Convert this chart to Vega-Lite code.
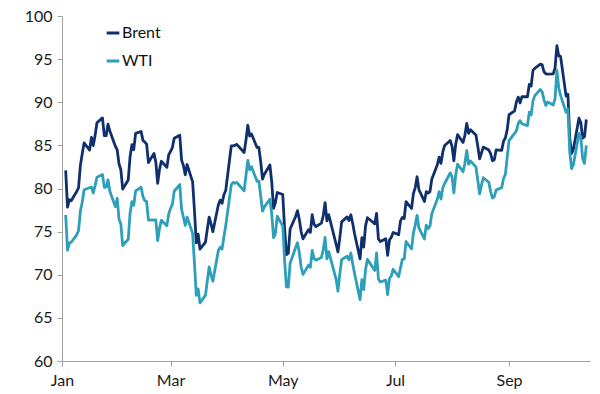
{
  "$schema": "https://vega.github.io/schema/vega-lite/v6.json",
  "autosize": {"type": "none"},
  "padding": {"left": 62, "top": 16, "right": 10, "bottom": 33},
  "width": 528,
  "height": 345,
  "background": "#ffffff",
  "config": {
    "view": {"stroke": null},
    "font": "Lato",
    "axis": {"grid": false, "domainColor": "#a0a0a0", "tickColor": "#a0a0a0", "tickSize": 5, "labelFontSize": 16, "labelColor": "#1a1a1a", "labelFont": "Lato", "title": null}
  },
  "data": {"values": [
    {"d":"2023-01-03","Brent":82.10,"WTI":76.93},
    {"d":"2023-01-04","Brent":77.84,"WTI":72.84},
    {"d":"2023-01-05","Brent":78.69,"WTI":73.67},
    {"d":"2023-01-06","Brent":78.57,"WTI":73.77},
    {"d":"2023-01-09","Brent":79.65,"WTI":74.63},
    {"d":"2023-01-10","Brent":80.10,"WTI":75.12},
    {"d":"2023-01-11","Brent":82.67,"WTI":77.41},
    {"d":"2023-01-12","Brent":84.03,"WTI":78.39},
    {"d":"2023-01-13","Brent":85.28,"WTI":79.86},
    {"d":"2023-01-16","Brent":84.46},
    {"d":"2023-01-17","Brent":85.92,"WTI":80.18},
    {"d":"2023-01-18","Brent":84.98,"WTI":79.48},
    {"d":"2023-01-19","Brent":86.16,"WTI":80.33},
    {"d":"2023-01-20","Brent":87.63,"WTI":81.31},
    {"d":"2023-01-23","Brent":88.19,"WTI":81.62},
    {"d":"2023-01-24","Brent":86.13,"WTI":80.13},
    {"d":"2023-01-25","Brent":86.12,"WTI":80.15},
    {"d":"2023-01-26","Brent":87.47,"WTI":81.01},
    {"d":"2023-01-27","Brent":86.66,"WTI":79.68},
    {"d":"2023-01-30","Brent":84.90,"WTI":77.90},
    {"d":"2023-01-31","Brent":84.49,"WTI":78.87},
    {"d":"2023-02-01","Brent":82.84,"WTI":76.41},
    {"d":"2023-02-02","Brent":82.17,"WTI":75.88},
    {"d":"2023-02-03","Brent":79.94,"WTI":73.39},
    {"d":"2023-02-06","Brent":80.99,"WTI":74.11},
    {"d":"2023-02-07","Brent":83.69,"WTI":77.14},
    {"d":"2023-02-08","Brent":85.09,"WTI":78.47},
    {"d":"2023-02-09","Brent":84.50,"WTI":78.06},
    {"d":"2023-02-10","Brent":86.39,"WTI":79.72},
    {"d":"2023-02-13","Brent":86.61,"WTI":80.14},
    {"d":"2023-02-14","Brent":85.58,"WTI":79.06},
    {"d":"2023-02-15","Brent":85.38,"WTI":78.59},
    {"d":"2023-02-16","Brent":85.14,"WTI":78.49},
    {"d":"2023-02-17","Brent":83.00,"WTI":76.34},
    {"d":"2023-02-20","Brent":84.07},
    {"d":"2023-02-21","Brent":83.05,"WTI":76.36},
    {"d":"2023-02-22","Brent":80.60,"WTI":73.95},
    {"d":"2023-02-23","Brent":82.21,"WTI":75.39},
    {"d":"2023-02-24","Brent":83.16,"WTI":76.32},
    {"d":"2023-02-27","Brent":82.45,"WTI":75.68},
    {"d":"2023-02-28","Brent":83.89,"WTI":77.05},
    {"d":"2023-03-01","Brent":84.31,"WTI":77.69},
    {"d":"2023-03-02","Brent":84.75,"WTI":78.16},
    {"d":"2023-03-03","Brent":85.83,"WTI":79.68},
    {"d":"2023-03-06","Brent":86.18,"WTI":80.46},
    {"d":"2023-03-07","Brent":83.29,"WTI":77.58},
    {"d":"2023-03-08","Brent":82.66,"WTI":76.66},
    {"d":"2023-03-09","Brent":81.59,"WTI":75.72},
    {"d":"2023-03-10","Brent":82.78,"WTI":76.68},
    {"d":"2023-03-13","Brent":80.77,"WTI":74.80},
    {"d":"2023-03-14","Brent":77.45,"WTI":71.33},
    {"d":"2023-03-15","Brent":73.69,"WTI":67.61},
    {"d":"2023-03-16","Brent":74.70,"WTI":68.35},
    {"d":"2023-03-17","Brent":72.97,"WTI":66.74},
    {"d":"2023-03-20","Brent":73.79,"WTI":67.64},
    {"d":"2023-03-21","Brent":75.32,"WTI":69.33},
    {"d":"2023-03-22","Brent":76.69,"WTI":70.90},
    {"d":"2023-03-23","Brent":75.91,"WTI":69.96},
    {"d":"2023-03-24","Brent":74.99,"WTI":69.26},
    {"d":"2023-03-27","Brent":78.12,"WTI":72.81},
    {"d":"2023-03-28","Brent":78.65,"WTI":73.20},
    {"d":"2023-03-29","Brent":78.28,"WTI":72.97},
    {"d":"2023-03-30","Brent":79.27,"WTI":74.37},
    {"d":"2023-03-31","Brent":79.77,"WTI":75.67},
    {"d":"2023-04-03","Brent":84.93,"WTI":80.42},
    {"d":"2023-04-04","Brent":84.94,"WTI":80.71},
    {"d":"2023-04-05","Brent":85.00,"WTI":80.61},
    {"d":"2023-04-06","Brent":85.12,"WTI":80.70},
    {"d":"2023-04-10","Brent":84.18,"WTI":79.74},
    {"d":"2023-04-11","Brent":85.61,"WTI":81.53},
    {"d":"2023-04-12","Brent":87.33,"WTI":83.26},
    {"d":"2023-04-13","Brent":86.09,"WTI":82.16},
    {"d":"2023-04-14","Brent":86.31,"WTI":82.52},
    {"d":"2023-04-17","Brent":84.76,"WTI":80.83},
    {"d":"2023-04-18","Brent":84.77,"WTI":80.86},
    {"d":"2023-04-19","Brent":83.12,"WTI":79.16},
    {"d":"2023-04-20","Brent":81.10,"WTI":77.37},
    {"d":"2023-04-21","Brent":81.66,"WTI":77.87},
    {"d":"2023-04-24","Brent":82.73,"WTI":78.76},
    {"d":"2023-04-25","Brent":80.77,"WTI":77.07},
    {"d":"2023-04-26","Brent":77.69,"WTI":74.30},
    {"d":"2023-04-27","Brent":78.37,"WTI":74.76},
    {"d":"2023-04-28","Brent":79.54,"WTI":76.78},
    {"d":"2023-05-01","Brent":79.31,"WTI":75.66},
    {"d":"2023-05-02","Brent":75.32,"WTI":71.66},
    {"d":"2023-05-03","Brent":72.33,"WTI":68.60},
    {"d":"2023-05-04","Brent":72.50,"WTI":68.56},
    {"d":"2023-05-05","Brent":75.30,"WTI":71.34},
    {"d":"2023-05-08","Brent":76.76,"WTI":73.16},
    {"d":"2023-05-09","Brent":77.44,"WTI":73.71},
    {"d":"2023-05-10","Brent":76.41,"WTI":72.56},
    {"d":"2023-05-11","Brent":74.98,"WTI":70.87},
    {"d":"2023-05-12","Brent":74.17,"WTI":70.04},
    {"d":"2023-05-15","Brent":75.23,"WTI":71.11},
    {"d":"2023-05-16","Brent":74.91,"WTI":70.86},
    {"d":"2023-05-17","Brent":76.96,"WTI":72.83},
    {"d":"2023-05-18","Brent":75.86,"WTI":71.86},
    {"d":"2023-05-19","Brent":75.58,"WTI":71.69},
    {"d":"2023-05-22","Brent":75.99,"WTI":71.99},
    {"d":"2023-05-23","Brent":76.84,"WTI":72.91},
    {"d":"2023-05-24","Brent":78.36,"WTI":74.34},
    {"d":"2023-05-25","Brent":76.26,"WTI":71.83},
    {"d":"2023-05-26","Brent":76.95,"WTI":72.67},
    {"d":"2023-05-30","Brent":73.54,"WTI":69.46},
    {"d":"2023-05-31","Brent":72.66,"WTI":68.09},
    {"d":"2023-06-01","Brent":74.28,"WTI":70.10},
    {"d":"2023-06-02","Brent":76.13,"WTI":71.74},
    {"d":"2023-06-05","Brent":76.71,"WTI":72.15},
    {"d":"2023-06-06","Brent":76.29,"WTI":71.74},
    {"d":"2023-06-07","Brent":76.95,"WTI":72.53},
    {"d":"2023-06-08","Brent":75.96,"WTI":71.29},
    {"d":"2023-06-09","Brent":74.79,"WTI":70.17},
    {"d":"2023-06-12","Brent":71.84,"WTI":67.12},
    {"d":"2023-06-13","Brent":74.29,"WTI":69.42},
    {"d":"2023-06-14","Brent":73.20,"WTI":68.27},
    {"d":"2023-06-15","Brent":75.67,"WTI":70.62},
    {"d":"2023-06-16","Brent":76.61,"WTI":71.78},
    {"d":"2023-06-19","Brent":76.09},
    {"d":"2023-06-20","Brent":75.90,"WTI":70.50},
    {"d":"2023-06-21","Brent":77.12,"WTI":72.53},
    {"d":"2023-06-22","Brent":74.14,"WTI":69.51},
    {"d":"2023-06-23","Brent":73.85,"WTI":69.16},
    {"d":"2023-06-26","Brent":74.18,"WTI":69.37},
    {"d":"2023-06-27","Brent":72.26,"WTI":67.70},
    {"d":"2023-06-28","Brent":74.03,"WTI":69.56},
    {"d":"2023-06-29","Brent":74.34,"WTI":69.86},
    {"d":"2023-06-30","Brent":74.90,"WTI":70.64},
    {"d":"2023-07-03","Brent":74.65,"WTI":69.79},
    {"d":"2023-07-04","Brent":76.25},
    {"d":"2023-07-05","Brent":76.65,"WTI":71.79},
    {"d":"2023-07-06","Brent":76.52,"WTI":71.80},
    {"d":"2023-07-07","Brent":78.47,"WTI":73.86},
    {"d":"2023-07-10","Brent":77.69,"WTI":72.99},
    {"d":"2023-07-11","Brent":79.40,"WTI":74.83},
    {"d":"2023-07-12","Brent":80.11,"WTI":75.75},
    {"d":"2023-07-13","Brent":81.36,"WTI":76.89},
    {"d":"2023-07-14","Brent":79.87,"WTI":75.42},
    {"d":"2023-07-17","Brent":78.50,"WTI":74.15},
    {"d":"2023-07-18","Brent":79.63,"WTI":75.75},
    {"d":"2023-07-19","Brent":79.46,"WTI":75.35},
    {"d":"2023-07-20","Brent":79.64,"WTI":75.63},
    {"d":"2023-07-21","Brent":81.07,"WTI":77.07},
    {"d":"2023-07-24","Brent":82.74,"WTI":78.74},
    {"d":"2023-07-25","Brent":83.64,"WTI":79.63},
    {"d":"2023-07-26","Brent":82.92,"WTI":78.78},
    {"d":"2023-07-27","Brent":84.24,"WTI":80.09},
    {"d":"2023-07-28","Brent":84.99,"WTI":80.58},
    {"d":"2023-07-31","Brent":85.56,"WTI":81.80},
    {"d":"2023-08-01","Brent":84.91,"WTI":81.37},
    {"d":"2023-08-02","Brent":83.20,"WTI":79.49},
    {"d":"2023-08-03","Brent":85.14,"WTI":81.55},
    {"d":"2023-08-04","Brent":86.24,"WTI":82.82},
    {"d":"2023-08-07","Brent":85.34,"WTI":81.94},
    {"d":"2023-08-08","Brent":86.17,"WTI":82.92},
    {"d":"2023-08-09","Brent":87.55,"WTI":84.40},
    {"d":"2023-08-10","Brent":86.40,"WTI":82.82},
    {"d":"2023-08-11","Brent":86.81,"WTI":83.19},
    {"d":"2023-08-14","Brent":86.21,"WTI":82.51},
    {"d":"2023-08-15","Brent":84.89,"WTI":80.99},
    {"d":"2023-08-16","Brent":83.45,"WTI":79.38},
    {"d":"2023-08-17","Brent":84.12,"WTI":80.39},
    {"d":"2023-08-18","Brent":84.80,"WTI":81.25},
    {"d":"2023-08-21","Brent":84.46,"WTI":80.72},
    {"d":"2023-08-22","Brent":84.03,"WTI":79.64},
    {"d":"2023-08-23","Brent":83.21,"WTI":78.89},
    {"d":"2023-08-24","Brent":83.36,"WTI":79.05},
    {"d":"2023-08-25","Brent":84.48,"WTI":79.83},
    {"d":"2023-08-28","Brent":84.42,"WTI":80.10},
    {"d":"2023-08-29","Brent":85.49,"WTI":81.16},
    {"d":"2023-08-30","Brent":85.86,"WTI":81.63},
    {"d":"2023-08-31","Brent":86.83,"WTI":83.63},
    {"d":"2023-09-01","Brent":88.55,"WTI":85.55},
    {"d":"2023-09-04","Brent":89.00},
    {"d":"2023-09-05","Brent":90.04,"WTI":86.69},
    {"d":"2023-09-06","Brent":90.60,"WTI":87.54},
    {"d":"2023-09-07","Brent":89.92,"WTI":87.87},
    {"d":"2023-09-08","Brent":90.65,"WTI":87.51},
    {"d":"2023-09-11","Brent":90.64,"WTI":87.29},
    {"d":"2023-09-12","Brent":92.06,"WTI":88.84},
    {"d":"2023-09-13","Brent":91.88,"WTI":88.52},
    {"d":"2023-09-14","Brent":93.70,"WTI":90.16},
    {"d":"2023-09-15","Brent":93.93,"WTI":90.77},
    {"d":"2023-09-18","Brent":94.43,"WTI":91.48},
    {"d":"2023-09-19","Brent":94.34,"WTI":91.20},
    {"d":"2023-09-20","Brent":93.53,"WTI":90.28},
    {"d":"2023-09-21","Brent":93.30,"WTI":89.63},
    {"d":"2023-09-22","Brent":93.27,"WTI":90.03},
    {"d":"2023-09-25","Brent":93.29,"WTI":89.68},
    {"d":"2023-09-26","Brent":93.96,"WTI":90.39},
    {"d":"2023-09-27","Brent":96.55,"WTI":93.68},
    {"d":"2023-09-28","Brent":95.38,"WTI":91.71},
    {"d":"2023-09-29","Brent":95.31,"WTI":90.79},
    {"d":"2023-10-02","Brent":90.71,"WTI":88.82},
    {"d":"2023-10-03","Brent":90.92,"WTI":89.23},
    {"d":"2023-10-04","Brent":85.81,"WTI":84.22},
    {"d":"2023-10-05","Brent":84.07,"WTI":82.31},
    {"d":"2023-10-06","Brent":84.58,"WTI":82.79},
    {"d":"2023-10-09","Brent":88.15,"WTI":86.38},
    {"d":"2023-10-10","Brent":87.65,"WTI":85.97},
    {"d":"2023-10-11","Brent":85.82,"WTI":83.49},
    {"d":"2023-10-12","Brent":86.00,"WTI":82.91},
    {"d":"2023-10-13","Brent":88.00,"WTI":85.00}
  ]},
  "transform": [
    {"fold": ["Brent", "WTI"], "as": ["series", "price"]},
    {"filter": "isValid(datum.price)"}
  ],
  "mark": {"type": "line", "strokeWidth": 2.8, "strokeJoin": "round"},
  "encoding": {
    "x": {
      "field": "d", "type": "temporal",
      "scale": {"type": "utc", "domain": [{"year": 2023, "month": 1, "date": 1, "utc": true}, {"year": 2023, "month": 10, "date": 15, "utc": true}]},
      "axis": {
        "values": [
          {"year": 2023, "month": 1, "date": 1, "utc": true},
          {"year": 2023, "month": 3, "date": 1, "utc": true},
          {"year": 2023, "month": 5, "date": 1, "utc": true},
          {"year": 2023, "month": 7, "date": 1, "utc": true},
          {"year": 2023, "month": 9, "date": 1, "utc": true}
        ],
        "format": "%b", "labelPadding": 6, "labelFlush": false
      }
    },
    "y": {
      "field": "price", "type": "quantitative",
      "scale": {"domain": [60, 100], "nice": false, "zero": false},
      "axis": {"values": [60, 65, 70, 75, 80, 85, 90, 95, 100], "labelPadding": 5}
    },
    "color": {
      "field": "series", "type": "nominal",
      "scale": {"domain": ["Brent", "WTI"], "range": ["#0f2f6d", "#2d9fb9"]},
      "legend": {
        "title": null, "orient": "none", "legendX": 43, "legendY": 9,
        "symbolType": "stroke", "symbolSize": 160, "symbolStrokeWidth": 3,
        "labelFontSize": 16, "labelColor": "#111111", "labelOffset": 1,
        "rowPadding": 12, "labelFont": "Lato"
      }
    }
  }
}
